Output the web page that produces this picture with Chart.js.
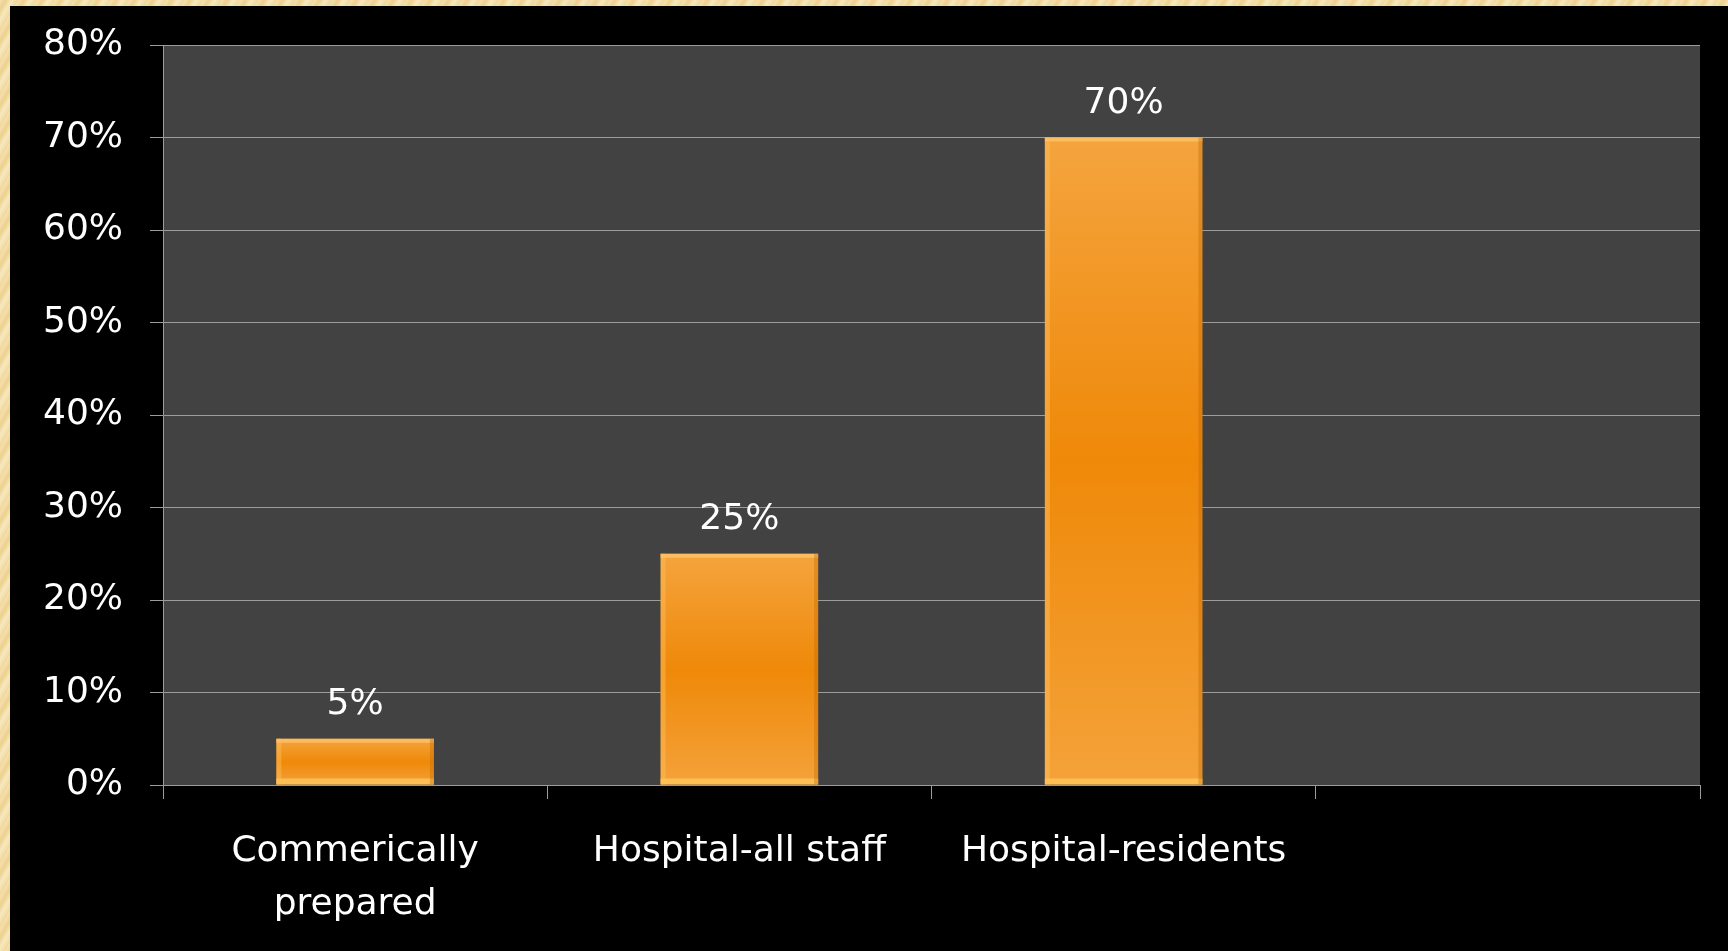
<!DOCTYPE html>
<html>
<head>
<meta charset="utf-8">
<script src="https://cdn.jsdelivr.net/npm/chart.js@4/dist/chart.umd.min.js"></script>
<style>
  html, body {
    margin: 0;
    padding: 0;
    width: 1728px;
    height: 951px;
    overflow: hidden;
    background: repeating-linear-gradient(120deg, #f4e2ae 0px, #eed08e 5px, #f7e8bd 10px, #efd79c 16px);
  }
  #frame {
    position: absolute;
    left: 10px;
    top: 6px;
    width: 1718px;
    height: 945px;
    background: #000;
  }
</style>
</head>
<body>
<div id="frame"><canvas id="myChart"></canvas></div>
<script>
// chart data
const categories = [['Commerically', 'prepared'], 'Hospital-all staff', 'Hospital-residents', ''];
const values = [5, 25, 70, null];
const yTicks = [0, 10, 20, 30, 40, 50, 60, 70, 80];

const font = {
  family: 'DejaVu Sans',
  size: 36,
};
const gridColor = '#9c9c9c';

// dark plot background behind the bars
const plotBackground = {
  id: 'plotBackground',
  beforeDraw(chart) {
    const { ctx, chartArea: a } = chart;
    ctx.save();
    ctx.fillStyle = '#424242';
    ctx.fillRect(a.left, a.top, a.right - a.left, a.bottom - a.top);
    ctx.restore();
  }
};

// bevel edges on the bars plus value labels on top
const barExtras = {
  id: 'barExtras',
  afterDatasetsDraw(chart) {
    const { ctx } = chart;
    const meta = chart.getDatasetMeta(0);
    ctx.save();
    meta.data.forEach((bar, i) => {
      if (values[i] == null) return;
      const left = bar.x - bar.width / 2;
      const right = bar.x + bar.width / 2;
      const top = bar.y;
      const bottom = bar.base;
      // top highlight
      ctx.fillStyle = 'rgba(255, 200, 110, 0.7)';
      ctx.fillRect(left, top, bar.width, 4);
      // bottom highlight
      ctx.fillStyle = 'rgba(255, 196, 90, 0.85)';
      ctx.fillRect(left, bottom - 6, bar.width, 6);
      // left edge lighter, right edge darker
      ctx.fillStyle = 'rgba(255, 190, 90, 0.45)';
      ctx.fillRect(left, top, 5, bottom - top);
      ctx.fillStyle = 'rgba(190, 100, 0, 0.35)';
      ctx.fillRect(right - 4, top, 4, bottom - top);

      ctx.fillStyle = '#ffffff';
      ctx.font = font.size + 'px ' + font.family;
      ctx.textAlign = 'center';
      ctx.textBaseline = 'middle';
      ctx.fillText(values[i] + '%', bar.x, top - 34);
    });
    ctx.restore();
  }
};

// vertical orange gradient, lighter at top and bottom
function barFill(context) {
  const chart = context.chart;
  const y = chart.scales.y;
  const v = values[context.dataIndex];
  if (!y || v == null) return '#ef8a0b';
  const yTop = y.getPixelForValue(v);
  const yBase = y.getPixelForValue(0);
  if (!isFinite(yTop) || !isFinite(yBase)) return '#ef8a0b';
  const g = chart.ctx.createLinearGradient(0, yTop, 0, yBase);
  g.addColorStop(0, '#f4a43e');
  g.addColorStop(0.5, '#ef8909');
  g.addColorStop(1, '#f4a23a');
  return g;
}

const myChart = new Chart(document.getElementById('myChart'), {
  type: 'bar',
  data: {
    labels: categories,
    datasets: [{
      data: values,
      backgroundColor: barFill,
      borderWidth: 0,
      categoryPercentage: 1,
      barPercentage: 0.41,
    }]
  },
  options: {
    responsive: true,
    maintainAspectRatio: false,
    animation: false,
    layout: {
      padding: { top: 39, right: 28, left: 0, bottom: 0 }
    },
    plugins: {
      legend: { display: false },
      tooltip: { enabled: false },
    },
    scales: {
      x: {
        offset: true,
        grid: {
          offset: true,
          drawOnChartArea: false,
          drawTicks: true,
          tickLength: 14,
          color: gridColor,
        },
        border: { display: true, color: gridColor, width: 1 },
        ticks: {
          color: '#ffffff',
          font: { ...font, lineHeight: 1.45 },
          padding: 27,
          maxRotation: 0,
          autoSkip: false,
        },
        afterFit(scale) {
          scale.height = 166;
          scale.paddingLeft = 0;
          scale.paddingRight = 0;
        },
      },
      y: {
        min: 0,
        max: 80,
        afterBuildTicks(scale) {
          scale.ticks = yTicks.map(v => ({ value: v }));
        },
        grid: {
          color: gridColor,
          lineWidth: 1,
          drawTicks: true,
          tickLength: 13,
        },
        border: { display: true, color: gridColor, width: 1 },
        ticks: {
          color: '#ffffff',
          font: font,
          padding: 27,
          callback: (v) => v + '%',
        },
        afterFit(scale) {
          scale.width = 153;
          scale.paddingTop = 0;
          scale.paddingBottom = 0;
        },
      }
    }
  },
  plugins: [plotBackground, barExtras],
});
</script>
</body>
</html>
